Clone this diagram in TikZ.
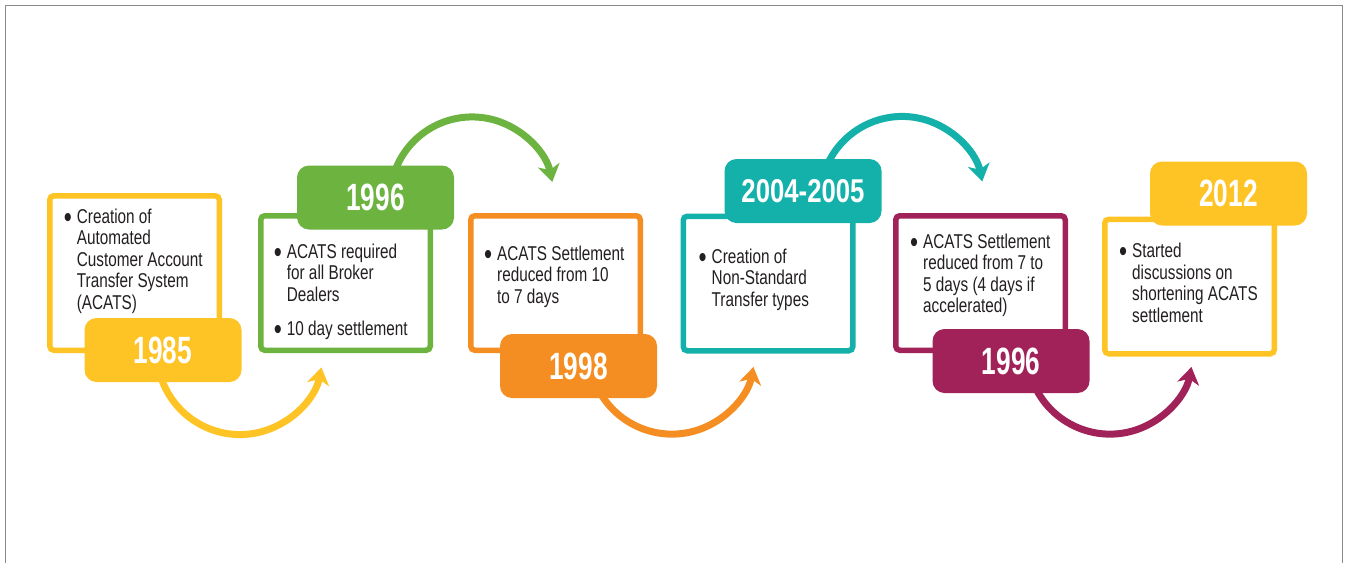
\documentclass[tikz,border=0pt]{standalone}
\usepackage{fontspec}
\setmainfont[FakeStretch=0.765]{Liberation Sans}
\newfontfamily\yearfont[FakeStretch=0.69]{Liberation Sans}
\usetikzlibrary{arrows.meta,backgrounds}

\definecolor{cyellow}{HTML}{FEC325}
\definecolor{cgreen}{HTML}{6CB33F}
\definecolor{corange}{HTML}{F58E22}
\definecolor{cteal}{HTML}{14B1AB}
\definecolor{cmagenta}{HTML}{A02259}
\definecolor{ink}{HTML}{231F20}
\definecolor{framegray}{HTML}{8A8A8A}

\newcommand{\bulletnote}[1]{\makebox[13pt][l]{\raisebox{-0.2em}{\scalebox{1.5}{\textbullet}}}\begin{tabular}[t]{@{}l@{}}#1\end{tabular}}

\begin{document}
\begin{tikzpicture}[x=1pt,y=-1pt,>={Stealth[length=17pt,width=22pt,inset=5pt]},
  box/.style={draw,fill=white,line width=5.5pt,rounded corners=4pt,
    minimum width=169.5pt,minimum height=134.5pt},
  year/.style={text=white,rounded corners=12pt,minimum width=157pt,
    minimum height=64pt,inner sep=0pt,font=\yearfont\bfseries\fontsize{38}{38}\selectfont},
  note/.style={anchor=base west,inner sep=0pt,text=ink,
    font=\fontsize{20}{21.5}\selectfont},
  link/.style={->,line width=7pt}]
  \useasboundingbox (0,0) rectangle (1346,563);
  \draw[framegray,line width=1.5pt] (5.5,563) -- (5.5,5.5) -- (1342.5,5.5) -- (1342.5,563);

  % boxes
  \node[box,draw=cyellow,minimum height=154.5pt] (b1) at (134.5,273) {};
  \node[box,draw=cgreen] (b2) at (345.5,283) {};
  \node[box,draw=corange] (b3) at (555.5,283) {};
  \node[box,draw=cteal] (b4) at (768,283.5) {};
  \node[box,draw=cmagenta] (b5) at (980.5,283) {};
  \node[box,draw=cyellow] (b6) at (1189.5,286.5) {};

  % notes
  \node[note] (t1) at ([shift={(16.7,30)}]b1.north west)
    {\bulletnote{Creation of\\Automated\\Customer Account\\Transfer System\\(ACATS)}};
  \node[note] (t2a) at ([shift={(15.7,45)}]b2.north west)
    {\bulletnote{ACATS required\\for all Broker\\Dealers}};
  \node[note] (t2b) at ([shift={(15.7,122)}]b2.north west)
    {\bulletnote{10 day settlement}};
  \node[note] (t3) at ([shift={(16,47)}]b3.north west)
    {\bulletnote{ACATS Settlement\\reduced from 10\\to 7 days}};
  \node[note] (t4) at ([shift={(18,49.5)}]b4.north west)
    {\bulletnote{Creation of\\Non-Standard\\Transfer types}};
  \node[note] (t5) at ([shift={(17,35)}]b5.north west)
    {\bulletnote{ACATS Settlement\\reduced from 7 to\\5 days (4 days if\\accelerated)}};
  \node[note] (t6) at ([shift={(17,41)}]b6.north west)
    {\bulletnote{Started\\discussions on\\shortening ACATS\\settlement}};

  % years
  \node[year,fill=cyellow] (y1) at (163,350) {1985};
  \node[year,fill=cgreen] (y2) at (375.5,197.5) {1996};
  \node[year,fill=corange] (y3) at (578.5,366) {1998};
  \node[year,fill=cteal] (y4) at (803,191)
    {\fontsize{33}{33}\selectfont\scalebox{1.13}[1]{2004-2005}};
  \node[year,fill=cmagenta] (y5) at (1011,361) {1996};
  \node[year,fill=cyellow] (y6) at (1228.5,193.5) {2012};

  % arcs
  \begin{scope}[on background layer]
    \draw[link,cyellow] ([shift={(-2,-5)}]y1.south) arc[start angle=198,end angle=349,radius=83pt];
    \draw[link,cgreen] ([shift={(19.5,5.6)}]y2.north) arc[start angle=160,end angle=12,radius=82pt];
    \draw[link,corange] ([shift={(16.5,-16)}]y3.south) arc[start angle=202,end angle=349,radius=83pt];
    \draw[link,cteal] ([shift={(22,11.6)}]y4.north) arc[start angle=160,end angle=12,radius=82pt];
    \draw[link,cmagenta] ([shift={(22,-11)}]y5.south) arc[start angle=202,end angle=349,radius=83pt];
  \end{scope}
\end{tikzpicture}
\end{document}
